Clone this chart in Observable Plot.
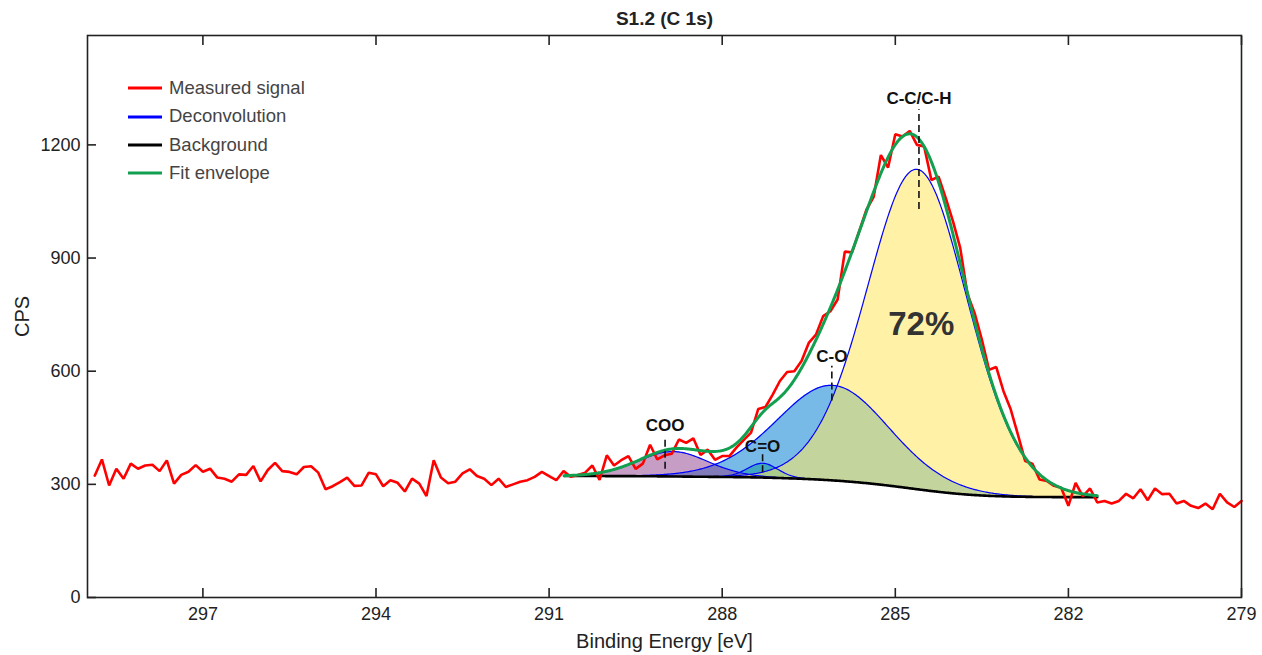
<!DOCTYPE html>
<html><head><meta charset="utf-8">
<script src="https://cdn.jsdelivr.net/npm/d3@7"></script>
<script src="https://cdn.jsdelivr.net/npm/@observablehq/plot@0.6"></script>
<style>
body{margin:0;background:#fff;font-family:"Liberation Sans",Arial,sans-serif;}
#wrap{position:relative;width:1262px;height:655px;}
#legend{position:absolute;left:128px;top:74px;font-size:18.5px;color:#444;line-height:28.4px;}
#legend .it{display:flex;align-items:center;height:28.4px;}
#legend svg{margin-right:7px;}
</style></head><body><div id="wrap"><div id="legend"></div></div>
<script>
// Measured spectrum: binding energy grid (eV) and counts (CPS)
const energyFirst = 298.875, energyStep = 0.125;
const signal = [323,366,297,341.5,315,355,341.5,350,352,335,
363.5,302,325,333.5,351,333.5,341.5,318,315,307,
326.5,325,348.5,308,338,357,335,333,326.5,346,
348,331,287,295,306,318,296,297,331,326.5,
295,311,304,281,315,302,269,364,318,303,
307,329,340,322,315,298,315,293,300,307,
311,320,333,322,311,335,320,325,331,350,
312,377,350,364,375,341,355,405,366,377,
381,419,410,422,378,392,365,375,375,398,
418,437,500,505,538,574,598,600,627,675,
697,746,759,790,917,915,971,1028,1062,1173,
1140,1228,1222,1237,1200,1196,1107,1116,1059,997,
927,805,754,684,604,611,547,499,432,362,
355,313,309,296,291,243,304,268,289,252,
256,249,256,275,263,287,258,289,274,275,
249,256,243,237,249,234,275,252,240,256];

// Fitted components (GL(30) line shapes on a Shirley background)
const peakNames = ["C-C/C-H","C-O","C=O","COO"];
const peakCenters = [284.62, 286.08, 287.30, 288.85];
const peakHeights = [848, 252, 38, 66];
const peakFWHM = [2.15, 2.4, 0.65, 1.5];
const peakFills = ["rgb(255,232,98)","rgb(30,140,215)","rgb(20,150,160)","rgb(140,60,140)"];
const peakFillOpacity = [0.56, 0.6, 0.55, 0.5];
const glMix = 0.3;
const fitLow = 281.5, fitHigh = 290.75;
const bgLow = 266, bgHigh = 322;

// Annotations
const labelNames = ["C-C/C-H","C-O","C=O","COO"];
const labelEnergy = [284.59, 286.10, 287.30, 288.99];
const labelValue = [1322, 640, 401, 457];
const dashTop = [1293, 613, 380, 425];
const dashBottom = [1029, 521, 331, 340];
const shareText = ["72%"], shareEnergy = [284.55], shareValue = [724];

const xTicks = [297,294,291,288,285,282,279];
const yTicks = [0,300,600,900,1200];
const legendNames = ["Measured signal","Deconvolution","Background","Fit envelope"];
const legendColors = ["#ff0000","#0000ff","#000000","#12a050"];

// ---- build tables ----
const measured = signal.map((v,i)=>({E: energyFirst - i*energyStep, v}));
function gl(e, c, h, w){ const u=(e-c)*(e-c)/(w*w); return h*Math.exp(-4*Math.LN2*(1-glMix)*u)/(1+4*glMix*u); }
const fitE = d3.range(fitLow, fitHigh + 1e-9, 0.02);
const comps = peakNames.map((n,j)=>fitE.map(e=>gl(e, peakCenters[j], peakHeights[j], peakFWHM[j])));
const total = fitE.map((e,i)=>d3.sum(comps, c=>c[i]));
const cum=[0]; for(let i=1;i<fitE.length;i++) cum.push(cum[i-1]+(total[i]+total[i-1])/2*(fitE[i]-fitE[i-1]));
const bg = cum.map(c=>bgLow + (bgHigh-bgLow)*c/cum[cum.length-1]);
const bgRows = fitE.map((E,i)=>({E, v:bg[i]}));
const envRows = fitE.map((E,i)=>({E, v:bg[i]+total[i]}));
const compRows = peakNames.map((n,j)=>fitE.map((E,i)=>({E, name:n, y1:bg[i], y2:bg[i]+comps[j][i]})));
const labels = labelNames.map((n,i)=>({n, E:labelEnergy[i], v:labelValue[i], t:dashTop[i], b:dashBottom[i]}));

const drawOrder = [1,2,3,0];
const chart = Plot.plot({
  width:1262, height:655, marginLeft:87, marginRight:21, marginTop:35, marginBottom:58,
  style:{fontFamily:"Liberation Sans, Arial, sans-serif", fontSize:"18px", color:"#222", background:"#fff"},
  x:{domain:[299,279]}, y:{domain:[0,1490]},
  marks:[
    ...drawOrder.map(j=>Plot.areaY(compRows[j], {x:"E", y1:"y1", y2:"y2", fill:peakFills[j], fillOpacity:peakFillOpacity[j]})),
    ...drawOrder.map(j=>Plot.lineY(compRows[j], {x:"E", y:"y2", stroke:"#0000ff", strokeWidth:1.2})),
    Plot.lineY(bgRows, {x:"E", y:"v", stroke:"#000", strokeWidth:2.6}),
    Plot.lineY(measured, {x:"E", y:"v", stroke:"#ff0000", strokeWidth:2.6, strokeLinejoin:"miter"}),
    Plot.lineY(envRows, {x:"E", y:"v", stroke:"#12a050", strokeWidth:3}),
    Plot.ruleX(labels, {x:"E", y1:"b", y2:"t", stroke:"#111", strokeWidth:1.6, strokeDasharray:"7,4"}),
    Plot.text(labels, {x:"E", y:"v", text:"n", fontWeight:"bold", fontSize:17, fill:"#111"}),
    Plot.text(shareText, {x:(d,i)=>shareEnergy[i], y:(d,i)=>shareValue[i], text:d=>d, fontWeight:"bold", fontSize:33, fill:"#333"}),
    Plot.frame({stroke:"#222", strokeWidth:1.6}),
    Plot.axisX(xTicks, {anchor:"bottom", tickSize:-9, tickPadding:19, tickFormat:d=>String(d), label:null, stroke:"#222", strokeWidth:1.6, fill:"#222"}),
    Plot.axisX(xTicks, {anchor:"top", tickSize:-9, tickFormat:()=>"", label:null, stroke:"#222", strokeWidth:1.6}),
    Plot.axisY(yTicks, {anchor:"left", tickSize:-9, tickPadding:16, tickFormat:d=>String(d), label:null, stroke:"#222", strokeWidth:1.6, fill:"#222"}),
    Plot.text(["Binding Energy [eV]"], {frameAnchor:"bottom", lineAnchor:"middle", dy:44, fontSize:20, fill:"#222"}),
    Plot.text(["CPS"], {frameAnchor:"left", textAnchor:"middle", lineAnchor:"middle", dx:-65, rotate:-90, fontSize:20, fill:"#222"}),
    Plot.text(["S1.2 (C 1s)"], {frameAnchor:"top", lineAnchor:"middle", dy:-17, fontSize:19, fontWeight:"bold", fill:"#222"})
  ]
});
document.getElementById("wrap").prepend(chart);
const lg = document.getElementById("legend");
legendNames.forEach((n,i)=>{
  const d=document.createElement("div"); d.className="it";
  d.innerHTML=`<svg width="34" height="6"><line x1="0" y1="3" x2="34" y2="3" stroke="${legendColors[i]}" stroke-width="3"/></svg><span>${n}</span>`;
  lg.appendChild(d);
});
</script></body></html>
